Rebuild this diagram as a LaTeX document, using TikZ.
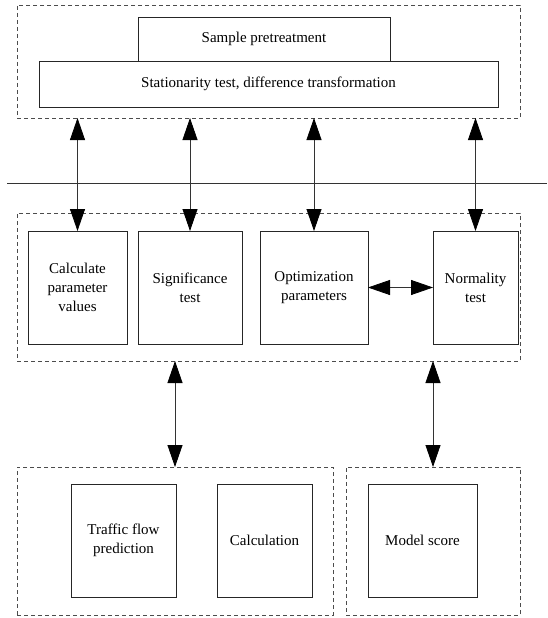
\documentclass[tikz,border=0pt]{standalone}
\usepackage{fontspec}
\setmainfont{Liberation Serif}
\usetikzlibrary{arrows.meta}
\begin{document}
\begin{tikzpicture}[x=1pt,y=-1pt,
  box/.style={draw=black!85, line width=0.9pt, inner sep=0pt, outer sep=0pt, align=center, font=\fontsize{15}{19}\selectfont, fill=white},
  grp/.style={draw=black!70, line width=0.8pt, dash pattern=on 4pt off 3pt, inner sep=0pt, outer sep=0pt},
  arr/.style={draw=black!80, line width=0.8pt, {Triangle[length=22pt,width=15pt,color=black]}-{Triangle[length=22pt,width=15pt,color=black]}}
]
\useasboundingbox (0,0) rectangle (547,618);
\fill[white] (0,0) rectangle (547,618);
% groups
\node[grp, minimum width=503, minimum height=113] (top) at (268.5,61.5) {};
\node[grp, minimum width=503, minimum height=148] (mid) at (268.5,287) {};
\node[grp, minimum width=316, minimum height=148] (bl) at (175,541) {};
\node[grp, minimum width=174, minimum height=148] (br) at (433,541) {};
% top boxes
\node[box, minimum width=252, minimum height=44] (sp) at (264,39) {Sample pretreatment};
\node[box, minimum width=459, minimum height=46] (st) at (268.5,84) {Stationarity test, difference transformation};
% separator
\coordinate (la) at (7,183);
\coordinate (lb) at (547,183);
\draw[black!80, line width=0.8pt] (la) -- (lb);
% middle boxes
\node[box, minimum width=99, minimum height=113] (b1) at (77.5,287.5) {Calculate\\parameter\\values};
\node[box, minimum width=104, minimum height=113] (b2) at (190,287.5) {Significance\\test};
\node[box, minimum width=108, minimum height=113] (b3) at (314,287.5) {Optimization\\parameters};
\node[box, minimum width=85, minimum height=113] (b4) at (475.5,287.5) {Normality\\test};
% bottom boxes
\node[box, minimum width=105, minimum height=113] (c1) at (123.5,540.5) {Traffic flow\\prediction};
\node[box, minimum width=95, minimum height=113] (c2) at (264.5,540.5) {Calculation};
\node[box, minimum width=109, minimum height=113] (c3) at (422.5,540.5) {Model score};
% arrows
\draw[arr] (b1.north |- top.south) -- (b1.north);
\draw[arr] (b2.north |- top.south) -- (b2.north);
\draw[arr] (b3.north |- top.south) -- (b3.north);
\draw[arr] (b4.north |- top.south) -- (b4.north);
\draw[arr] (b3.east) -- (b4.west);
\draw[arr] (bl.north |- mid.south) -- (bl.north);
\draw[arr] (br.north |- mid.south) -- (br.north);
\end{tikzpicture}
\end{document}
